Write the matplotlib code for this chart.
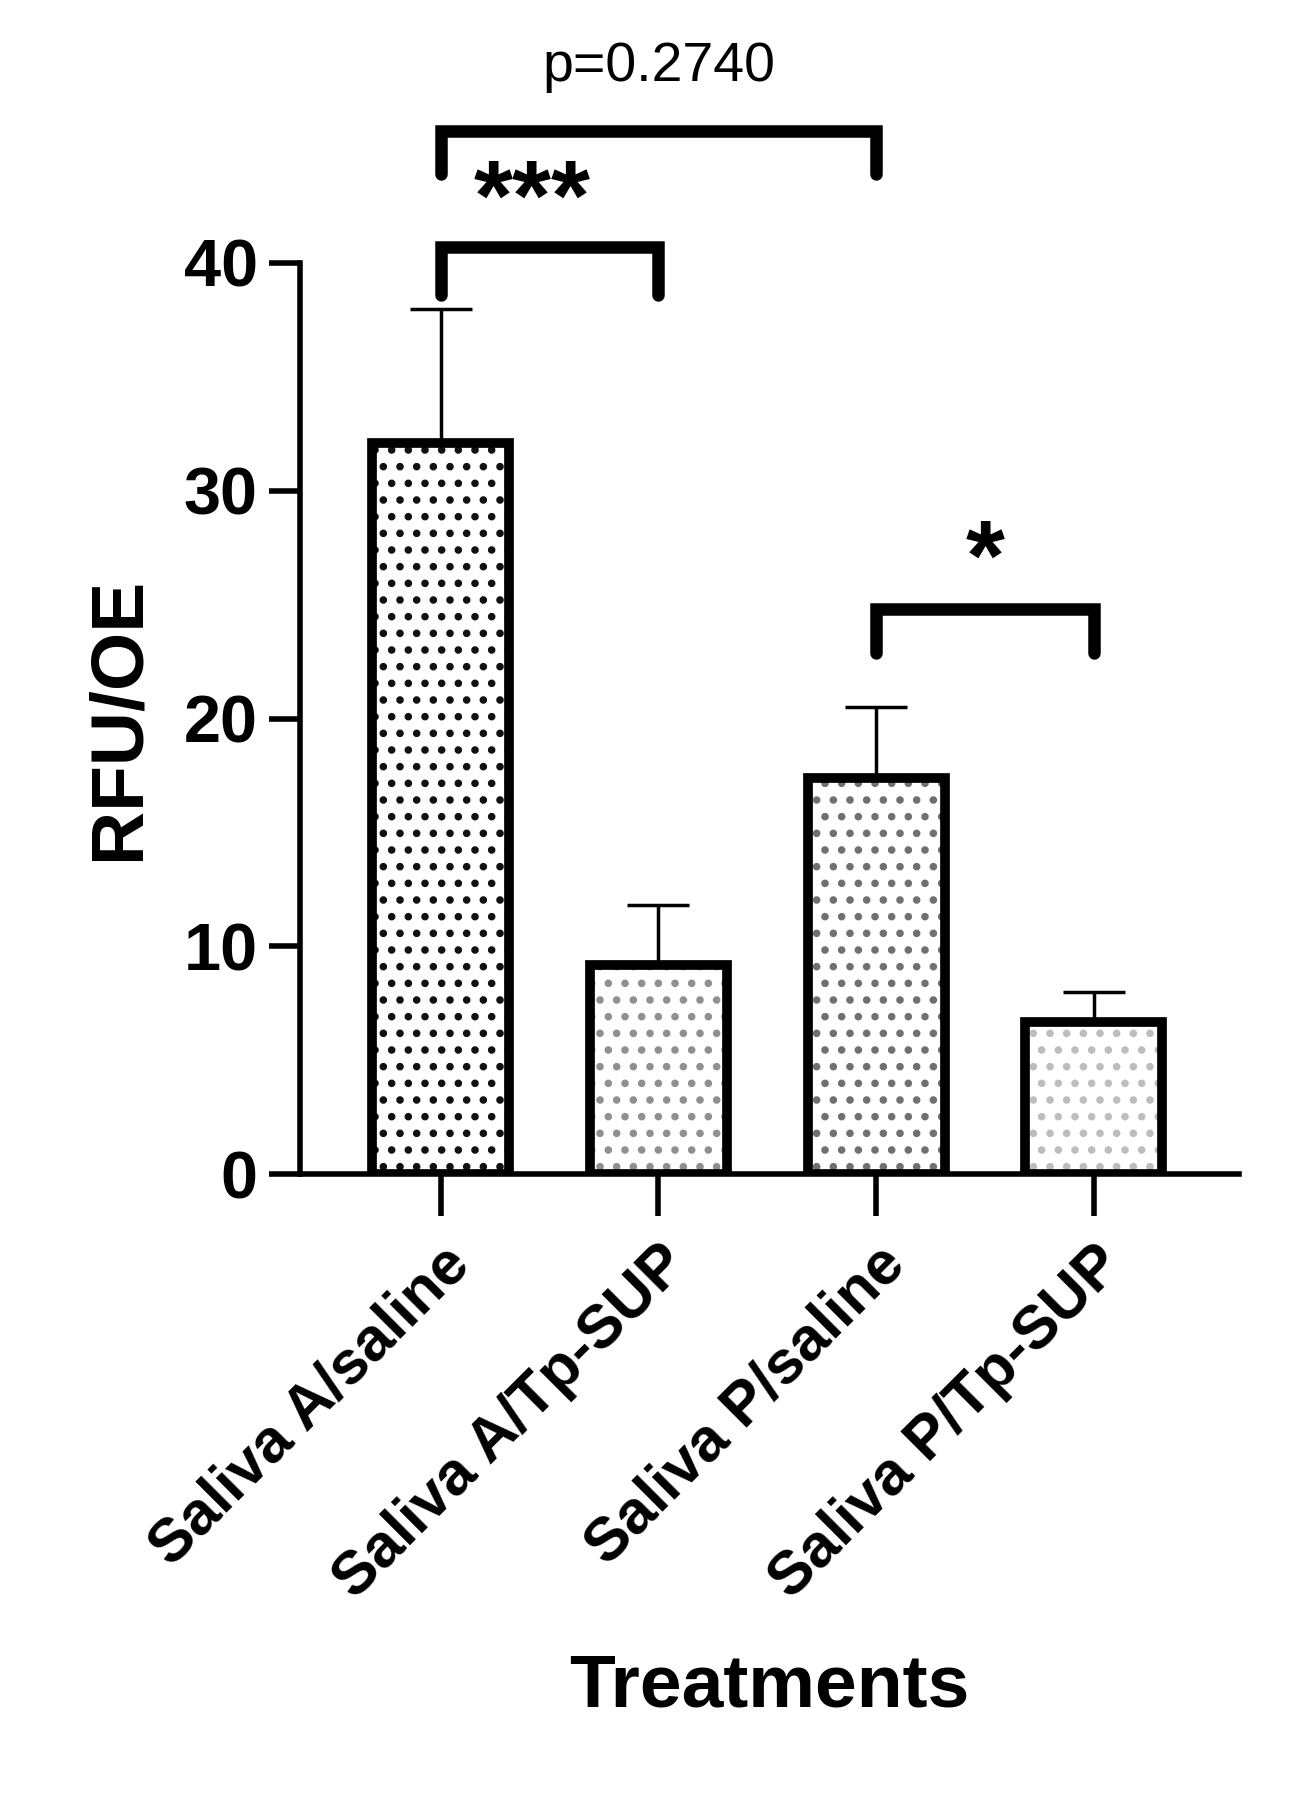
import matplotlib
matplotlib.use("Agg")
import matplotlib.pyplot as plt

categories = ["Saliva A/saline", "Saliva A/Tp-SUP", "Saliva P/saline", "Saliva P/Tp-SUP"]
means = [32.1, 9.2, 17.4, 6.7]
err_up = [5.9, 2.6, 3.1, 1.3]
dot_colors = ["#111111", "#909090", "#707070", "#bdbdbd"]

plt.rcParams['font.family'] = ['Liberation Sans', 'DejaVu Sans']
plt.rcParams['hatch.linewidth'] = 3.0

fig = plt.figure(figsize=(12.91, 18.01), dpi=100)
ax = fig.add_axes([0.232, 0.348, 0.728, 0.506])
x = list(range(len(categories)))
for i in x:
    ax.bar(i, means[i], width=0.63, facecolor="white", edgecolor=dot_colors[i], linewidth=0, hatch=".", zorder=2)
    ax.bar(i, means[i], width=0.63, facecolor="none", edgecolor="black", linewidth=7, zorder=3)
    ax.errorbar(i, means[i], yerr=[[0], [err_up[i]]], fmt="none", ecolor="black", elinewidth=2.5, capsize=22, capthick=2.5, zorder=1)

ax.set_xlim(-0.65, 3.67)
ax.set_ylim(0, 40)
ax.set_yticks([0, 10, 20, 30, 40])
ax.set_xticks(x)
ax.set_xticklabels(categories, rotation=45, ha="right", rotation_mode="anchor", fontsize=44, fontweight="bold")
for lab in ax.get_yticklabels():
    lab.set_fontsize(48); lab.set_fontweight("bold")
ax.tick_params(axis="y", length=22, width=4, pad=8)
ax.tick_params(axis="x", length=30, width=4, pad=14)
for s in ["top", "right"]:
    ax.spines[s].set_visible(False)
for s in ["left", "bottom"]:
    ax.spines[s].set_linewidth(4)
ax.set_ylabel("RFU/OE", fontsize=54, fontweight="bold", labelpad=22)
ax.set_xlabel("Treatments", fontsize=54, fontweight="bold", labelpad=30)

def bracket(x1, x2, y, ylow, text, ty, fs, fw):
    ax.plot([x1, x1, x2, x2], [ylow, y, y, ylow], color="black", lw=9, solid_capstyle="round", solid_joinstyle="miter", clip_on=False)
    if text:
        ax.text((x1 + x2) / 2, ty, text, ha="center", va="center", fontsize=fs, fontweight=fw, clip_on=False)

bracket(0, 1, 40.7, 38.6, "", 0, 10, "bold")
ax.text(0.42, 42.6, "***", ha="center", va="center", fontsize=72, fontweight="bold")
bracket(0, 2, 45.8, 43.9, "p=0.2740", 48.6, 40, "normal")
bracket(2, 3, 24.8, 22.9, "*", 26.8, 72, "bold")

fig.savefig("out.png", dpi=100)
